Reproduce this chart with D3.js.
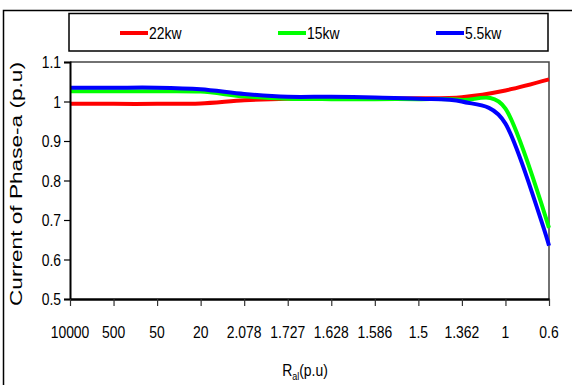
<!DOCTYPE html>
<html>
<head>
<meta charset="utf-8">
<script src="https://cdn.jsdelivr.net/npm/d3@7"></script>
<style>
  body { margin: 0; background: #fff; }
  svg { display: block; }
  text { font-family: "Liberation Sans", Arial, sans-serif; }
</style>
</head>
<body>
<div id="chart"></div>
<script>
// categories on the x axis (R_al in p.u)
var categories = ["10000", "500", "50", "20", "2.078", "1.727", "1.628", "1.586", "1.5", "1.362", "1", "0.6"];
// current of phase-a, one array per motor size
var kw22 = [0.994, 0.994, 0.994, 0.995, 1.003, 1.007, 1.007, 1.007, 1.008, 1.011, 1.028, 1.056];
var kw15 = [1.026, 1.026, 1.026, 1.025, 1.013, 1.007, 1.006, 1.006, 1.006, 1.004, 0.982, 0.680];
var kw55 = [1.035, 1.035, 1.035, 1.031, 1.019, 1.012, 1.012, 1.010, 1.007, 1.000, 0.944, 0.635];
var seriesNames = ["22kw", "15kw", "5.5kw"];
var seriesColors = ["#ff0000", "#00ff00", "#0000ff"];
var yTicks = [0.5, 0.6, 0.7, 0.8, 0.9, 1, 1.1];

var W = 572, H = 385;
// plot area edges (note: "top" is reserved on window, so use p-prefixed names)
var pLeft = 70, pRight = 549, pTop = 62, pBottom = 299;
var NARROW = 0.82; // labels in the picture are condensed

var svg = d3.select("#chart").append("svg").attr("width", W).attr("height", H);

// outer frame (runs off the right and bottom edge)
svg.append("rect")
	.attr("x", 3.5).attr("y", 10.5).attr("width", 620).attr("height", 420)
	.attr("fill", "none").attr("stroke", "#000").attr("stroke-width", 1.5);

var x = d3.scalePoint().domain(categories).range([pLeft, pRight]);
var y = d3.scaleLinear().domain([0.5, 1.1]).range([pBottom, pTop]);

// plot border: top & right thin grey
svg.append("path")
	.attr("d", "M" + pLeft + "," + pTop + "H" + pRight + "V" + pBottom)
	.attr("fill", "none").attr("stroke", "#444").attr("stroke-width", 1.5);

// narrow text helper
function ntext(g, tx, ty, str, anchor, size) {
	return g.append("text")
		.attr("transform", "translate(" + tx + "," + ty + ") scale(" + NARROW + ",1)")
		.attr("text-anchor", anchor)
		.attr("font-size", size)
		.attr("fill", "#000")
		.text(str);
}

// series lines (smoothed like the original spreadsheet chart)
var line = d3.line()
	.x(function (d, i) { return x(categories[i]); })
	.y(function (d) { return y(d); })
	.curve(d3.curveCardinal.tension(0.1));

[kw22, kw15, kw55].forEach(function (s, i) {
	svg.append("path")
		.datum(s)
		.attr("d", line)
		.attr("fill", "none")
		.attr("stroke", seriesColors[i])
		.attr("stroke-width", 4)
		.attr("stroke-linejoin", "round");
});

// y axis
var yAxis = svg.append("g").attr("transform", "translate(" + pLeft + ",0)")
	.call(d3.axisLeft(y).tickValues(yTicks).tickSize(6).tickFormat(""));
yAxis.select(".domain").attr("stroke", "#000").attr("stroke-width", 2);
yAxis.selectAll(".tick line").attr("stroke", "#000").attr("stroke-width", 1.2);
yTicks.forEach(function (t) {
	ntext(svg, pLeft - 9, y(t) + 6, d3.format("")(t), "end", 17);
});

// x axis
var xAxis = svg.append("g").attr("transform", "translate(0," + pBottom + ")")
	.call(d3.axisBottom(x).tickSize(7).tickFormat("").tickSizeOuter(0));
xAxis.select(".domain").attr("stroke", "#000").attr("stroke-width", 2.5);
xAxis.selectAll(".tick line").attr("stroke", "#333").attr("stroke-width", 1.2);
categories.forEach(function (c) {
	ntext(svg, x(c), 338, c, "middle", 17);
});

// legend box
svg.append("rect")
	.attr("x", 69).attr("y", 13.5).attr("width", 479).attr("height", 37.5)
	.attr("fill", "#fff").attr("stroke", "#000").attr("stroke-width", 1.5);
var legX = [120, 278, 436];
seriesNames.forEach(function (n, i) {
	svg.append("line")
		.attr("x1", legX[i]).attr("x2", legX[i] + 28)
		.attr("y1", 33).attr("y2", 33)
		.attr("stroke", seriesColors[i]).attr("stroke-width", 4);
	ntext(svg, legX[i] + 29, 39, n, "start", 17);
});

// y title (stretched along its length like the picture)
svg.append("text")
	.attr("transform", "translate(22,184) rotate(-90)")
	.attr("x", -122)
	.attr("font-size", 16)
	.attr("textLength", 244)
	.attr("lengthAdjust", "spacingAndGlyphs")
	.text("Current of Phase-a (p.u)");

// x title R_al(p.u)
var xt = svg.append("text")
	.attr("transform", "translate(" + 305 + ",376) scale(" + NARROW + ",1)")
	.attr("text-anchor", "middle")
	.attr("font-size", 17);
xt.append("tspan").text("R");
xt.append("tspan").attr("font-size", 11).attr("dy", 4).text("al");
xt.append("tspan").attr("dy", -4).text("(p.u)");
</script>
</body>
</html>
